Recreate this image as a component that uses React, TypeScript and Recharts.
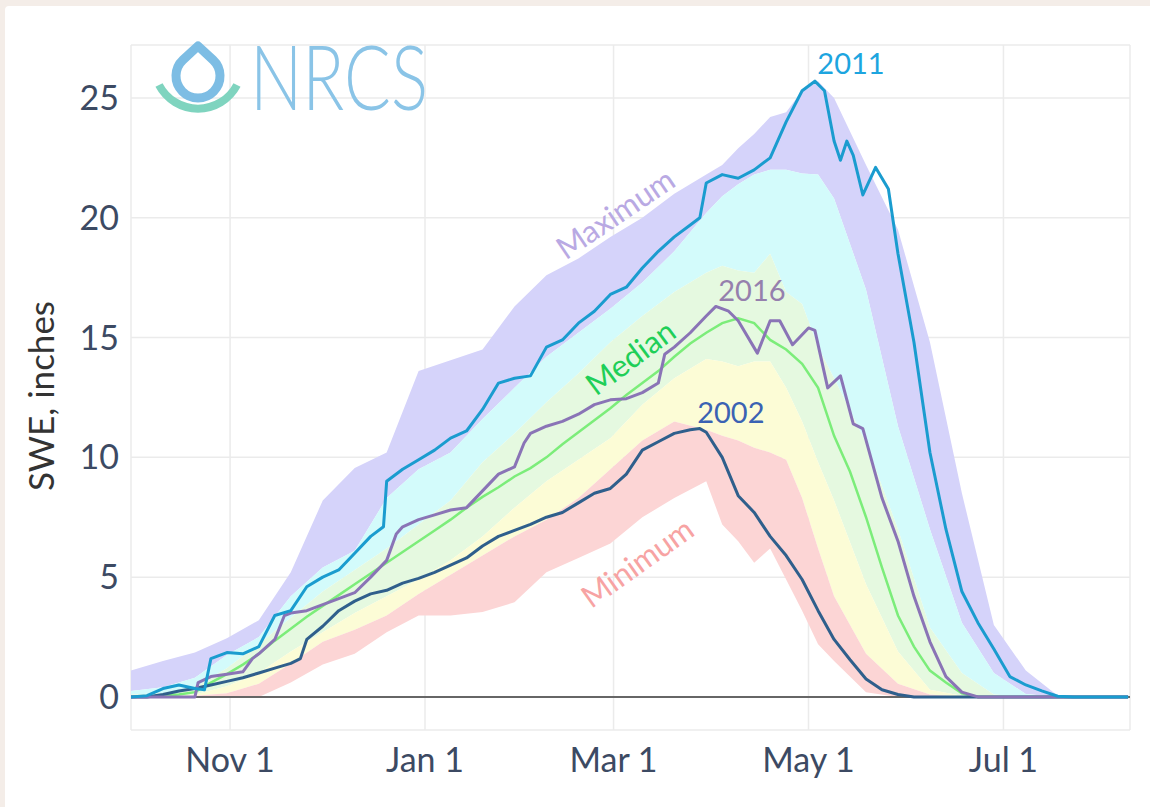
import React from 'react';
import {
  ComposedChart,
  Area,
  Line,
  XAxis,
  YAxis,
  CartesianGrid,
  ReferenceLine,
  ReferenceDot,
} from 'recharts';

const FONT = "Lato, 'Open Sans', 'DejaVu Sans', sans-serif";

// ---- x axis (days since Oct 1 of the water year) ----
const tickDays = [31, 92, 151, 212, 273];
const tickLabels = ['Nov 1', 'Jan 1', 'Mar 1', 'May 1', 'Jul 1'];
const yTicks = [0, 5, 10, 15, 20, 25];

// ---- percentile bands ----
const bandDays = [0, 10, 20, 30, 40, 50, 60, 70, 80, 90, 100, 110, 120, 130, 140, 150, 160, 170, 180, 185, 190, 195, 200, 205, 210, 215, 220, 230, 240, 250, 260, 270, 280, 290, 300, 312];
const sweMax = [1.1, 1.5, 1.85, 2.45, 3.2, 5.2, 8.2, 9.55, 10.2, 13.6, 14.05, 14.5, 16.3, 17.6, 18.3, 19.2, 20.0, 21.0, 21.8, 22.2, 22.9, 23.5, 24.2, 24.4, 25.3, 25.7, 25.0, 22.2, 19.5, 14.8, 8.5, 3.0, 1.1, 0.05, 0, 0];
const swe90 = [0.25, 0.4, 0.8, 1.75, 2.5, 4.2, 5.4, 6.1, 8.3, 9.5, 10.2, 11.6, 12.9, 14.2, 15.2, 16.2, 17.3, 18.6, 20.2, 20.9, 21.4, 21.8, 22.0, 22.0, 21.85, 21.8, 20.8, 17.0, 11.3, 7.0, 3.1, 1.0, 0.12, 0, 0, 0];
const swe70 = [0.1, 0.15, 0.4, 1.2, 2.2, 3.3, 4.4, 5.3, 6.2, 7.2, 8.2, 9.8, 11.0, 12.3, 13.5, 14.8, 15.9, 16.9, 17.7, 18.0, 17.8, 17.7, 18.5, 16.9, 16.4, 14.6, 13.3, 10.6, 7.0, 2.9, 1.0, 0.1, 0, 0, 0, 0];
const swe30 = [0, 0, 0.1, 0.45, 1.0, 1.9, 2.7, 3.5, 4.2, 4.9, 5.7, 6.7, 7.9, 9.0, 9.9, 10.8, 12.2, 13.3, 14.1, 14.0, 13.8, 14.0, 14.0, 12.9, 11.5, 9.8, 8.2, 4.7, 1.9, 0.3, 0.05, 0, 0, 0, 0, 0];
const swe10 = [0, 0, 0.05, 0.15, 0.55, 1.4, 2.3, 2.8, 3.4, 4.3, 5.1, 5.9, 6.7, 7.4, 8.3, 9.5, 10.7, 11.5, 11.15, 10.9, 10.7, 10.4, 10.2, 9.9, 8.3, 6.2, 4.2, 1.8, 0.55, 0.1, 0, 0, 0, 0, 0, 0];
const sweMin = [0, 0, 0, 0, 0, 0.6, 1.35, 1.8, 2.7, 3.4, 3.4, 3.55, 3.95, 5.2, 5.8, 6.4, 7.5, 8.3, 9.0, 7.2, 6.5, 5.6, 6.2, 4.9, 3.6, 2.2, 1.5, 0.2, 0, 0, 0, 0, 0, 0, 0, 0];

// ---- median ----
const medianDays = [0, 5, 10, 15, 20, 25, 30, 35, 40, 45, 50, 55, 60, 65, 70, 75, 80, 85, 90, 95, 100, 105, 110, 115, 120, 125, 130, 135, 140, 145, 150, 155, 160, 165, 170, 175, 180, 185, 190, 195, 200, 205, 210, 215, 220, 225, 230, 235, 240, 245, 250, 255, 260, 265, 312];
const sweMedian = [0, 0.02, 0.05, 0.1, 0.2, 0.6, 0.95, 1.35, 1.8, 2.35, 2.85, 3.35, 3.8, 4.25, 4.7, 5.15, 5.6, 6.05, 6.5, 6.95, 7.4, 7.9, 8.35, 8.75, 9.2, 9.55, 10.0, 10.55, 11.05, 11.55, 12.05, 12.6, 13.1, 13.6, 14.2, 14.75, 15.2, 15.6, 15.8, 15.6, 14.9, 14.5, 13.9, 12.9, 10.9, 9.4, 7.5, 5.4, 3.4, 2.1, 1.1, 0.6, 0.15, 0, 0];

// ---- water year 2011 ----
const days2011 = [0, 5, 10, 15, 20, 23, 25, 30, 35, 40, 45, 50, 55, 60, 65, 70, 75, 79, 80, 85, 90, 95, 100, 105, 110, 115, 120, 125, 130, 135, 140, 145, 150, 155, 160, 165, 170, 175, 178, 180, 185, 190, 195, 200, 205, 210, 214, 217, 220, 222, 224, 226, 229, 233, 237, 240, 245, 250, 255, 260, 265, 270, 275, 280, 285, 290, 295, 312];
const swe2011 = [0, 0.05, 0.35, 0.5, 0.35, 0.3, 1.6, 1.85, 1.8, 2.1, 3.4, 3.6, 4.6, 5.0, 5.3, 6.0, 6.7, 7.1, 9.0, 9.5, 9.9, 10.3, 10.8, 11.1, 12.0, 13.1, 13.3, 13.4, 14.6, 14.9, 15.6, 16.1, 16.8, 17.1, 17.9, 18.6, 19.2, 19.7, 20.0, 21.45, 21.8, 21.65, 22.0, 22.5, 24.0, 25.3, 25.7, 25.3, 23.2, 22.4, 23.2, 22.6, 20.95, 22.1, 21.2, 18.5, 14.8, 10.2, 7.0, 4.4, 3.1, 2.0, 0.85, 0.5, 0.25, 0.03, 0, 0];

// ---- water year 2016 ----
const days2016 = [0, 20, 21, 25, 30, 35, 38, 40, 45, 48, 50, 55, 60, 65, 70, 75, 80, 83, 85, 90, 95, 100, 105, 110, 115, 120, 123, 125, 130, 135, 140, 145, 150, 155, 160, 165, 167, 170, 175, 180, 183, 187, 190, 196, 200, 203, 207, 212, 214, 218, 222, 226, 229, 235, 240, 245, 250, 255, 260, 265, 312];
const swe2016 = [0, 0, 0.6, 0.85, 0.95, 1.05, 1.6, 1.8, 2.4, 3.4, 3.5, 3.6, 3.85, 4.1, 4.35, 5.0, 5.7, 6.8, 7.1, 7.4, 7.6, 7.8, 7.9, 8.6, 9.3, 9.6, 10.6, 11.0, 11.3, 11.5, 11.8, 12.2, 12.4, 12.45, 12.7, 13.1, 14.3, 14.6, 15.2, 15.9, 16.3, 16.1, 15.7, 14.35, 15.7, 15.7, 14.7, 15.4, 15.3, 12.9, 13.4, 11.4, 11.2, 8.3, 6.5, 4.2, 2.3, 0.85, 0.2, 0, 0];

// ---- water year 2002 ----
const days2002 = [0, 5, 10, 15, 20, 25, 30, 35, 40, 45, 50, 53, 55, 60, 65, 70, 75, 80, 85, 90, 95, 100, 105, 110, 115, 120, 125, 130, 135, 140, 145, 150, 155, 160, 165, 170, 175, 178, 180, 185, 190, 195, 200, 205, 210, 215, 220, 225, 230, 235, 240, 245, 312];
const swe2002 = [0, 0, 0.1, 0.25, 0.35, 0.5, 0.65, 0.8, 1.0, 1.2, 1.4, 1.6, 2.4, 2.95, 3.6, 4.0, 4.3, 4.45, 4.75, 4.95, 5.2, 5.5, 5.8, 6.3, 6.7, 6.95, 7.2, 7.5, 7.7, 8.1, 8.5, 8.7, 9.3, 10.3, 10.65, 11.0, 11.15, 11.2, 11.05, 10.0, 8.4, 7.7, 6.7, 5.9, 4.9, 3.6, 2.4, 1.55, 0.75, 0.3, 0.1, 0, 0];

const bandData = bandDays.map((day, i) => ({
  day,
  maxBand: [swe90[i], sweMax[i]],
  highBand: [swe70[i], swe90[i]],
  normalBand: [swe30[i], swe70[i]],
  lowBand: [swe10[i], swe30[i]],
  minBand: [sweMin[i], swe10[i]],
}));

const toSeries = (days: number[], vals: number[]) => days.map((day, i) => ({ day, swe: vals[i] }));
const medianData = toSeries(medianDays, sweMedian);
const data2011 = toSeries(days2011, swe2011);
const data2016 = toSeries(days2016, swe2016);
const data2002 = toSeries(days2002, swe2002);

const Ann = (props: any) => {
  const { viewBox, text, color, rot = 0, size = 29 } = props;
  const cx = viewBox.x + (viewBox.width || 0) / 2;
  const cy = viewBox.y + (viewBox.height || 0) / 2;
  return (
    <g transform={rot ? `rotate(${rot} ${cx} ${cy})` : undefined}>
      <text
        x={cx}
        y={cy}
        fill={color}
        fontSize={size}
        fontFamily={FONT}
        textAnchor="middle"
        dominantBaseline="central"
      >
        {text}
      </text>
    </g>
  );
};

const tickStyle = { fill: '#3c4a63', fontSize: 34, fontFamily: FONT };

export default function App() {
  return (
    <div style={{ position: 'absolute', left: 0, top: 0, width: 1150, height: 807, background: '#f4ede8', overflow: 'hidden' }}>
      <div style={{ position: 'absolute', left: 5, top: 6, width: 1145, height: 801, background: '#ffffff', borderTopLeftRadius: 4 }} />
      <div style={{ position: 'absolute', left: 0, top: 0 }}>
        <ComposedChart width={1150} height={807} margin={{ top: 45, right: 20, bottom: 0, left: 0 }}>
          <CartesianGrid stroke="#ebebeb" strokeWidth={1.5} />
          <XAxis
            type="number"
            dataKey="day"
            domain={[0, 312.6]}
            ticks={tickDays}
            interval={0}
            tickFormatter={(v: number) => tickLabels[tickDays.indexOf(v)]}
            allowDataOverflow
            axisLine={false}
            tickLine={false}
            height={77}
            tickMargin={12}
            tick={tickStyle}
          />
          <YAxis
            type="number"
            domain={[-1.38, 27.21]}
            ticks={yTicks}
            interval={0}
            allowDataOverflow
            axisLine={false}
            tickLine={false}
            width={131}
            tickMargin={6}
            tick={tickStyle}
          />
          <Area data={bandData} dataKey="maxBand" type="linear" stroke="none" fill="#d5d3fa" fillOpacity={1} isAnimationActive={false} dot={false} activeDot={false} />
          <Area data={bandData} dataKey="highBand" type="linear" stroke="none" fill="#d3fbfb" fillOpacity={1} isAnimationActive={false} dot={false} activeDot={false} />
          <Area data={bandData} dataKey="normalBand" type="linear" stroke="none" fill="#e5f9e0" fillOpacity={1} isAnimationActive={false} dot={false} activeDot={false} />
          <Area data={bandData} dataKey="lowBand" type="linear" stroke="none" fill="#fcfcd6" fillOpacity={1} isAnimationActive={false} dot={false} activeDot={false} />
          <Area data={bandData} dataKey="minBand" type="linear" stroke="none" fill="#fcd5d5" fillOpacity={1} isAnimationActive={false} dot={false} activeDot={false} />
          <ReferenceLine y={0} stroke="#666666" strokeWidth={2} />
          <Line data={medianData} dataKey="swe" type="linear" stroke="#7ced7a" strokeWidth={2.5} dot={false} activeDot={false} isAnimationActive={false} />
          <Line data={data2002} dataKey="swe" type="linear" stroke="#2f5f8c" strokeWidth={3} dot={false} activeDot={false} isAnimationActive={false} strokeLinejoin="round" />
          <Line data={data2016} dataKey="swe" type="linear" stroke="#8a74b6" strokeWidth={3} dot={false} activeDot={false} isAnimationActive={false} strokeLinejoin="round" />
          <Line data={data2011} dataKey="swe" type="linear" stroke="#1a9ccf" strokeWidth={3} dot={false} activeDot={false} isAnimationActive={false} strokeLinejoin="round" />
          <ReferenceDot x={225.3} y={26.5} r={1} fill="none" stroke="none" ifOverflow="visible" label={<Ann text="2011" color="#1da5df" size={29} />} />
          <ReferenceDot x={194.3} y={17.0} r={1} fill="none" stroke="none" ifOverflow="visible" label={<Ann text="2016" color="#9580ad" size={29} />} />
          <ReferenceDot x={187.7} y={11.9} r={1} fill="none" stroke="none" ifOverflow="visible" label={<Ann text="2002" color="#3a62b3" size={29} />} />
          <ReferenceDot x={151.4} y={20.2} r={1} fill="none" stroke="none" ifOverflow="visible" label={<Ann text="Maximum" color="#b9a9e3" size={31} rot={-34} />} />
          <ReferenceDot x={156.1} y={14.2} r={1} fill="none" stroke="none" ifOverflow="visible" label={<Ann text="Median" color="#1fcf58" size={31} rot={-36.5} />} />
          <ReferenceDot x={158.3} y={5.63} r={1} fill="none" stroke="none" ifOverflow="visible" label={<Ann text="Minimum" color="#f7a3a3" size={31} rot={-35.5} />} />
        </ComposedChart>
      </div>
      <svg width={1150} height={807} style={{ position: 'absolute', left: 0, top: 0, pointerEvents: 'none' }}>
        <text x={40} y={396} transform="rotate(-90 40 396)" textAnchor="middle" dominantBaseline="central" fill="#333333" fontSize={35} fontFamily={FONT}>
          SWE, inches
        </text>
        <path d="M159,85 A44,44 0 0,0 237,85" fill="none" stroke="#7fd4bf" strokeWidth={8} />
        <path d="M198,46 L183,59.9 A22,22 0 1,0 213,59.9 Z" fill="none" stroke="#7dbde4" strokeWidth={9} strokeLinejoin="round" />
        <text x={250} y={110} fontSize={90} fontWeight={300} fontFamily={FONT} fill="#8ac4e7" textLength={178} lengthAdjust="spacingAndGlyphs">
          NRCS
        </text>
      </svg>
    </div>
  );
}
